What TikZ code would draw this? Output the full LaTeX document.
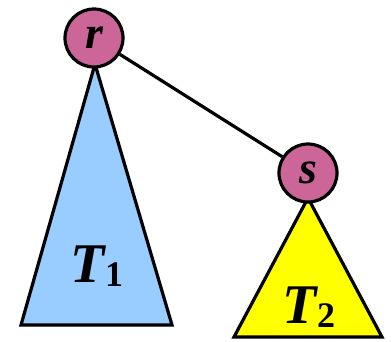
\documentclass[tikz,border=0pt]{standalone}
\usepackage{fontspec}
\setmainfont{Liberation Serif}
\usepackage{tikz}
\usepackage{xcolor}
\usetikzlibrary{positioning}

\definecolor{vertexpink}{HTML}{CC6699}
\definecolor{treeblue}{HTML}{99CCFF}
\definecolor{treeyellow}{HTML}{FFFF00}

\newcommand{\treelabel}[2]{{\fontsize{56}{56}\selectfont\bfseries\itshape #1}\raisebox{-0.42em}{\fontsize{36}{36}\selectfont\bfseries #2}}

\begin{document}
\begin{tikzpicture}[
    x=1pt, y=-1pt,
    line width=3.2pt,
    vertex/.style={
        circle,
        draw=black,
        fill=vertexpink,
        minimum size=58pt,
        inner sep=0pt,
        font=\fontsize{46}{46}\selectfont\bfseries\itshape
    },
    subtree/.style={draw=black, line join=miter},
    edge/.style={draw=black}
]
\useasboundingbox (0,0) rectangle (392,341);

% subtrees first, so the vertices sit on top of their apexes
\draw[subtree, fill=treeblue] (95,64) -- (21,325) -- (172,325) -- cycle;
\draw[subtree, fill=treeyellow] (308,198) -- (234,337) -- (382,337) -- cycle;

\node (t1) at (97,266) {\treelabel{T}{1}};
\node (t2) at (309,307) {\treelabel{T}{2}};

\node[vertex] (r) at (94,38) {r};
\node[vertex] (s) at (308,173) {s};

\draw[edge] (r) -- (s);

\end{tikzpicture}
\end{document}
